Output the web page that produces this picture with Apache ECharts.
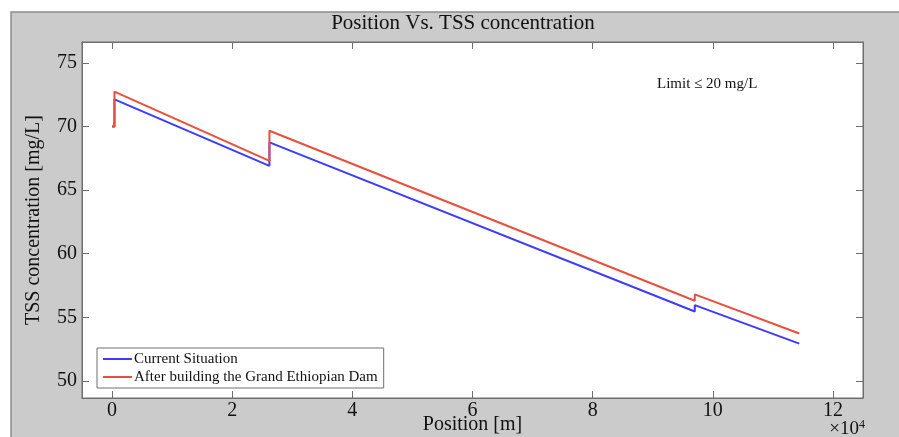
<!DOCTYPE html>
<html>
<head>
<meta charset="utf-8">
<script src="https://cdn.jsdelivr.net/npm/echarts@6/dist/echarts.min.js"></script>
<style>html,body{margin:0;padding:0;background:#fff;}#c{width:899px;height:437px;}</style>
</head>
<body>
<div id="c"></div>
<script>
// ---- data ----
var positions = [0, 400, 400, 26200, 26200, 97000, 97000, 114400];
var currentSituation = [70, 70, 72.14, 66.91, 68.75, 55.45, 55.95, 52.93];
var afterDam = [70, 70, 72.75, 67.30, 69.67, 56.30, 56.80, 53.72];
var xTicks = [0, 20000, 40000, 60000, 80000, 100000, 120000];
var yTicks = [50, 55, 60, 65, 70, 75];
var seriesNames = ['Current Situation', 'After building the Grand Ethiopian Dam'];

function pairs(xs, ys) { return xs.map(function (x, i) { return [x, ys[i]]; }); }

var FONT = "'Liberation Serif', 'Times New Roman', serif";
var AX = '#6e6e6e';
var chart = echarts.init(document.getElementById('c'), null, {renderer: 'canvas'});

function xAxis(pos, labels) {
  return {
    type: 'value', position: pos, min: -5000, max: 125000,
    axisLine: {show: true, onZero: false, lineStyle: {color: AX, width: 1}},
    axisTick: {show: true, inside: true, length: 7, customValues: xTicks, lineStyle: {color: AX}},
    axisLabel: {show: labels, customValues: xTicks, margin: 3, color: '#111', fontFamily: FONT, fontSize: 20,
      formatter: function (v) { return String(Math.round(v / 1e4)); }},
    splitLine: {show: false},
    name: labels ? 'Position [m]' : '', nameLocation: 'middle', nameGap: 17, nameMoveOverlap: false,
    nameTextStyle: {fontFamily: FONT, fontSize: 20, color: '#111'}
  };
}
function yAxis(pos, labels) {
  return {
    type: 'value', position: pos, min: 48.65, max: 76.65,
    axisLine: {show: true, onZero: false, lineStyle: {color: AX, width: 1}},
    axisTick: {show: true, inside: true, length: 7, customValues: yTicks, lineStyle: {color: AX}},
    axisLabel: {show: labels, customValues: yTicks, margin: 5, color: '#111', fontFamily: FONT, fontSize: 20},
    splitLine: {show: false},
    name: labels ? 'TSS concentration [mg/L]' : '', nameLocation: 'middle', nameGap: 38, nameRotate: 90,
    nameMoveOverlap: false,
    nameTextStyle: {fontFamily: FONT, fontSize: 20, color: '#111'}
  };
}

chart.setOption({
  animation: false,
  backgroundColor: '#ffffff',
  graphic: [
    {type: 'rect', z: -10, silent: true, shape: {x: 11, y: 12, width: 900, height: 440},
      style: {fill: '#cbcbcb', stroke: '#8c8c8c', lineWidth: 1.5}},
    {type: 'text', x: 463, y: 23, z: 10, style: {text: 'Position Vs. TSS concentration', fontFamily: FONT, fontSize: 21,
      fill: '#111', textAlign: 'center', textVerticalAlign: 'middle'}},
    {type: 'text', x: 657, y: 84, z: 10, style: {text: 'Limit \u2264 20 mg/L', fontFamily: FONT, fontSize: 15,
      fill: '#111', textAlign: 'left', textVerticalAlign: 'middle'}},
    {type: 'text', x: 865, y: 429, z: 10, style: {text: '\u00d710{s|4}', fontFamily: FONT, fontSize: 19,
      fill: '#111', textAlign: 'right', textVerticalAlign: 'middle',
      rich: {s: {fontFamily: FONT, fontSize: 12, verticalAlign: 'top', padding: [0, 0, 8, 0], fill: '#111'}}}}
  ],
  grid: {left: 82, top: 42, right: 36, bottom: 39, outerBoundsMode: 'none', containLabel: false,
    show: true, backgroundColor: '#ffffff', borderColor: AX, borderWidth: 1},
  xAxis: [xAxis('bottom', true), xAxis('top', false)],
  yAxis: [yAxis('left', true), yAxis('right', false)],
  legend: {
    orient: 'vertical', left: 97, top: 348, padding: [2, 6, 2, 6], itemGap: 0,
    backgroundColor: '#ffffff', borderColor: '#6e6e6e', borderWidth: 1, borderRadius: 0,
    icon: 'rect', itemWidth: 29, itemHeight: 2,
    textStyle: {fontFamily: FONT, fontSize: 15, color: '#111', lineHeight: 18, padding: [0, 0, 0, -3]},
    data: seriesNames
  },
  series: [
    {name: seriesNames[0], type: 'line', data: pairs(positions, currentSituation), showSymbol: false, symbol: 'none',
      lineStyle: {color: '#3c3cff', width: 2}, itemStyle: {color: '#3c3cff'}, z: 2},
    {name: seriesNames[1], type: 'line', data: pairs(positions, afterDam), showSymbol: false, symbol: 'none',
      lineStyle: {color: '#e8503c', width: 2}, itemStyle: {color: '#e8503c'}, z: 3}
  ]
});
</script>
</body>
</html>
